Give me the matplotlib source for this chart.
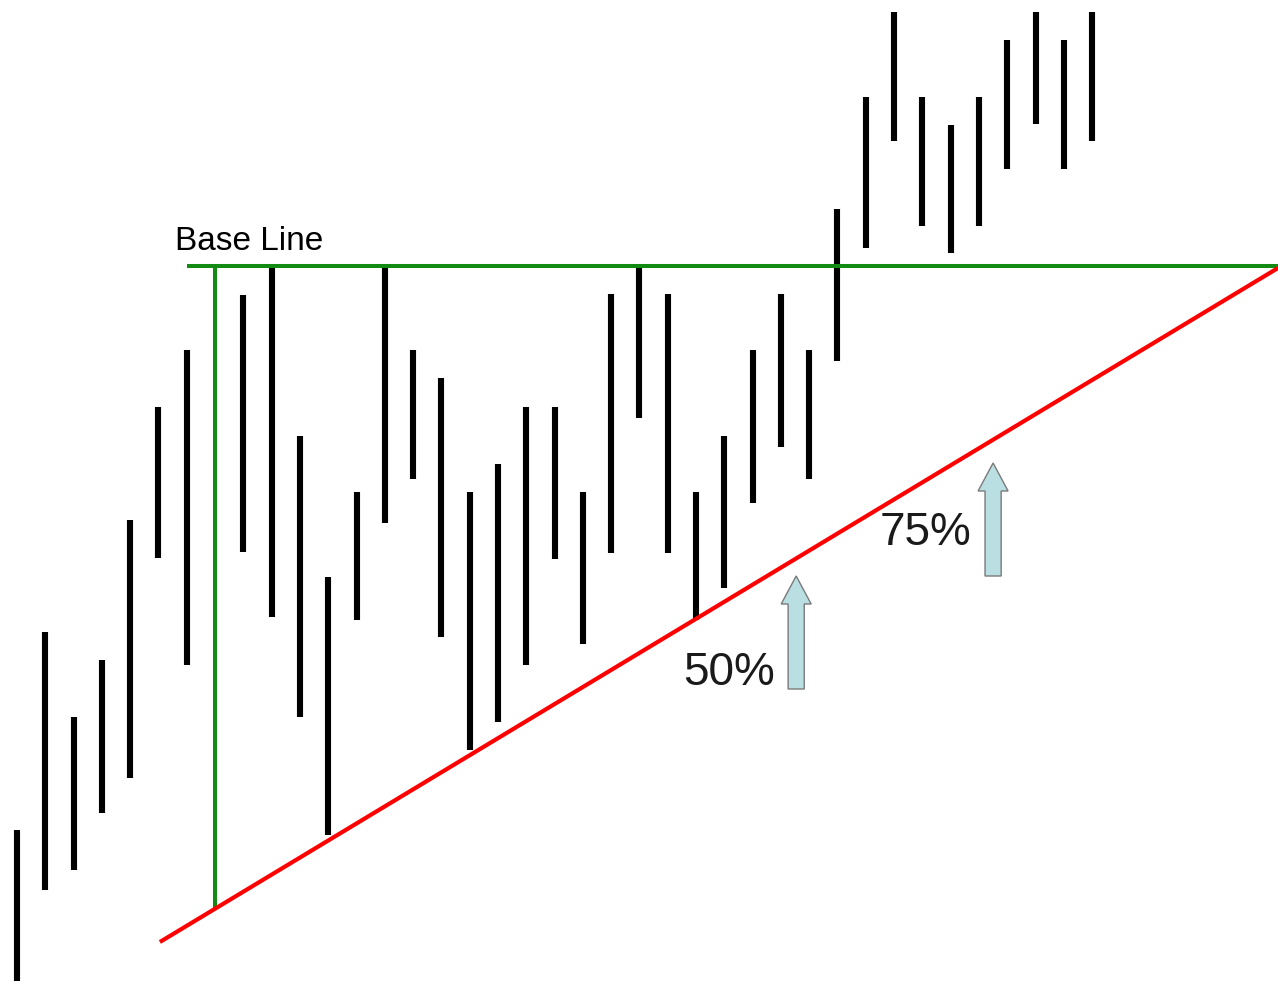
import numpy as np
import matplotlib
matplotlib.use('Agg')
from matplotlib import pyplot as plt
from matplotlib.patches import FancyArrow

# bar highs / lows (price units), one per day; NaN where the base line stands
highs = [15.1, 34.9, 26.4, 32.1, 46.1, 57.4, 63.1, np.nan, 68.6, 71.6,
         54.5, 40.4, 48.9, 71.6, 63.1, 60.3, 48.9, 51.7, 57.4, 57.4,
         48.9, 68.7, 71.5, 68.7, 48.9, 54.5, 63.1, 68.7, 63.1, 77.2,
         88.4, 96.9, 88.4, 85.6, 88.4, 94.1, 96.9, 94.1, 96.9]
lows = [-1.0, 9.1, 11.1, 16.8, 20.3, 42.3, 31.6, np.nan, 42.9, 36.4,
        26.4, 14.6, 36.1, 45.8, 50.2, 34.4, 23.1, 25.9, 31.6, 42.2,
        33.7, 42.8, 56.3, 42.8, 36.1, 39.3, 47.8, 53.4, 50.2, 62.0,
        73.3, 84.0, 75.5, 72.8, 75.5, 81.2, 85.7, 81.2, 84.0]
days = np.arange(len(highs))

base_level = 71.5
base_start = 6.0
base_day = 7
base_bottom = 7.1
trend_x = [5.05, 44.57]
trend_y = [3.9, 71.3]

# (day, bottom, top, label, label day, label price)
arrows = [(27.54, 29.2, 40.5, '50%', 23.54, 29.6),
          (34.5, 40.5, 51.8, '75%', 30.5, 43.6)]

fig = plt.figure(figsize=(12.78, 9.81), dpi=100)
ax = fig.add_axes([0, 0, 1, 1])
ax.set_xlim(-0.601, 44.57)
ax.set_ylim(0, 98.1)
ax.axis('off')

ax.vlines(days, lows, highs, colors='black', linewidth=4.4)

ax.plot([base_start, trend_x[1]], [base_level, base_level], color='#138a13', lw=2.9, solid_capstyle='butt')
ax.plot([base_day, base_day], [base_bottom, base_level], color='#138a13', lw=2.9, solid_capstyle='butt')
ax.plot(trend_x, trend_y, color='#ff0000', lw=3.0, solid_capstyle='butt')

ax.text(5.58, 73.1, 'Base Line', fontsize=24, family='Liberation Sans', color='black', va='baseline')

for d, b, t, lab, lx, ly in arrows:
    ax.add_patch(FancyArrow(d, b, 0, t - b, width=0.57, head_width=1.06, head_length=2.8,
                            length_includes_head=True, fc='#b9dfe2', ec='#7a7a7a', lw=1))
    ax.text(lx, ly, lab, fontsize=33, family='Liberation Sans', color='#1a1a1a', va='baseline')

fig.savefig('out.png', dpi=100)
